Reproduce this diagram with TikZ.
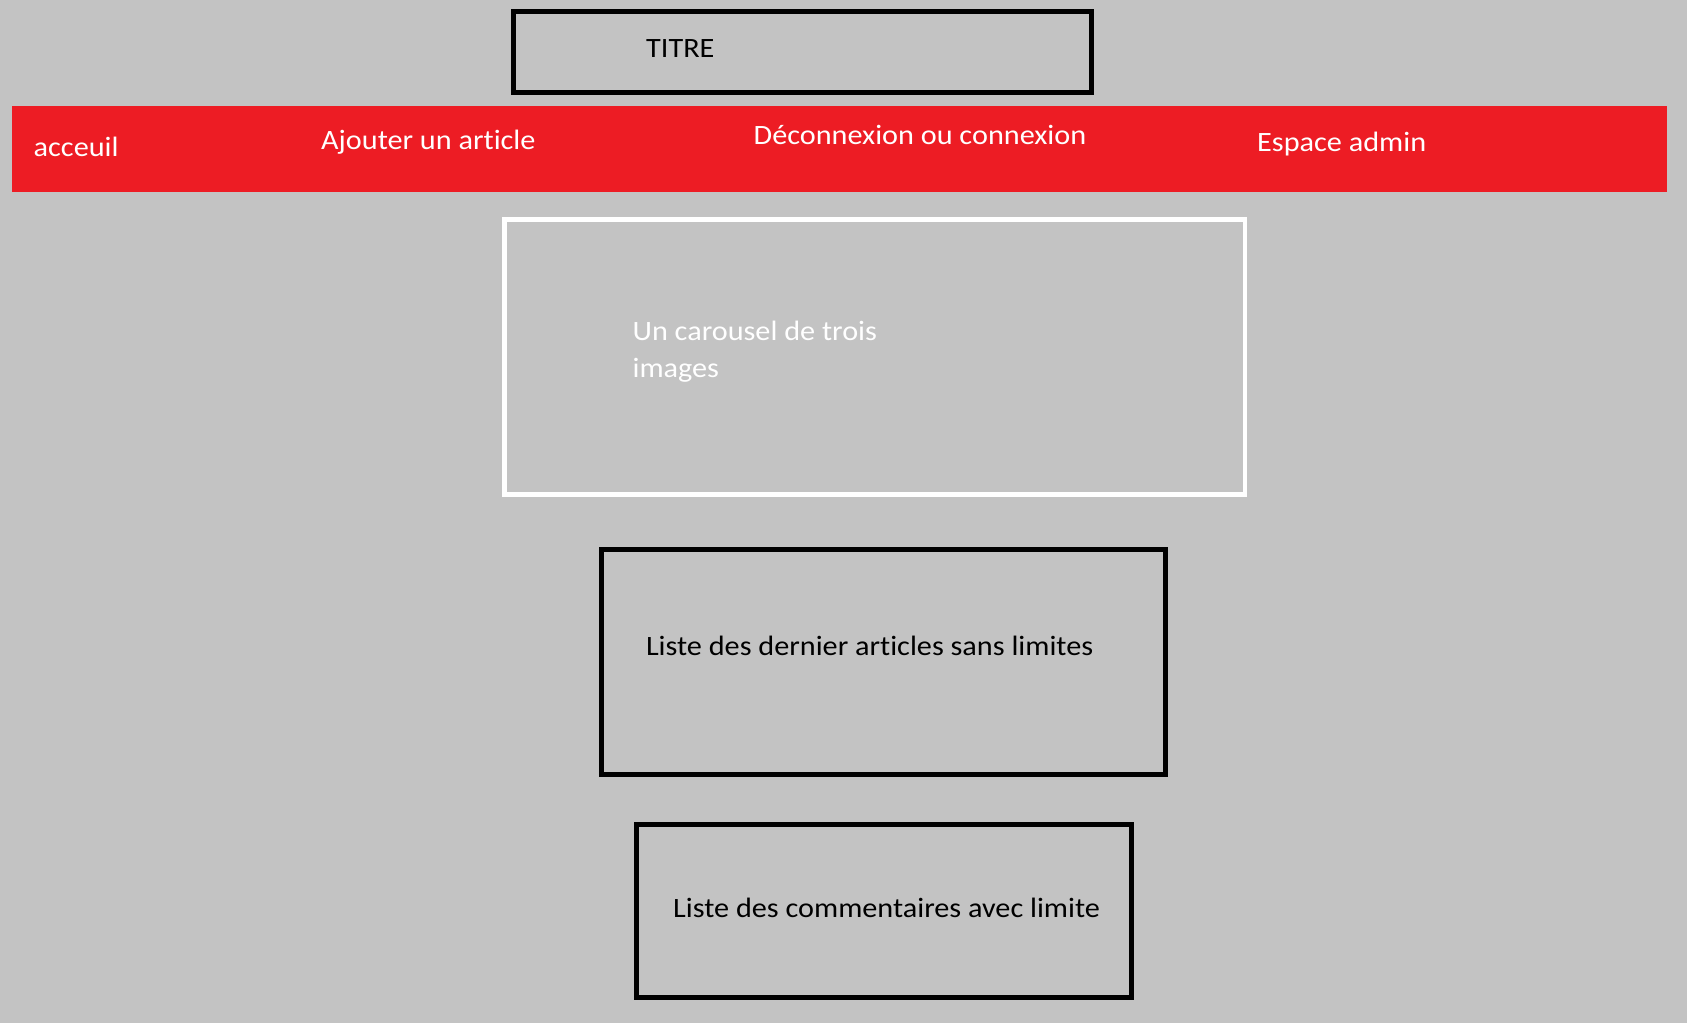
\documentclass[tikz,border=0pt]{standalone}
\usepackage{fontspec}
\setmainfont[FakeStretch=1.08,Ligatures=NoCommon]{Carlito}
\definecolor{pagegray}{HTML}{C3C3C3}
\definecolor{navred}{HTML}{ED1C24}
\begin{document}
\begin{tikzpicture}[x=1pt,y=-1pt,
  frame/.style={draw=black,line width=5pt,fill=none,inner sep=0pt,rectangle},
  whiteframe/.style={draw=white,line width=4.5pt,fill=none,inner sep=0pt,rectangle},
  label/.style={anchor=base west,inner sep=0pt,font=\fontsize{28}{36.6}\selectfont},
  navlabel/.style={label,text=white}]
  % page background
  \fill[pagegray] (0,0) rectangle (1687,1023);
  \useasboundingbox (0,0) rectangle (1687,1023);

  % title box
  \node[frame,minimum width=578.6pt,minimum height=80.7pt] (titlebox) at (802.4,52.15) {};
  \node[label] (titre) at (646,57.3) {TITRE};

  % navigation bar
  \node[fill=navred,inner sep=0pt,minimum width=1654.6pt,minimum height=85.3pt] (navbar) at (839.3,148.95) {};
  \node[navlabel] (acceuil) at (33.5,156) {acceuil};
  \node[navlabel] (ajouter) at (321,149.3) {Ajouter un article};
  \node[navlabel] (connexion) at (753.5,144.3) {Déconnexion ou connexion};
  \node[navlabel] (admin) at (1257,151.7) {Espace admin};

  % carousel (base anchor sits on the last line)
  \node[whiteframe,minimum width=740.5pt,minimum height=275.2pt] (carousel) at (874.5,356.85) {};
  \node[label,text=white,align=left] (carouseltext) at (632.4,377.3)
    {Un carousel de trois\\images};

  % latest articles
  \node[frame,minimum width=563.8pt,minimum height=224.8pt] (articles) at (883.6,662.3) {};
  \node[label] (articlestext) at (645.8,655.7) {Liste des dernier articles sans limites};

  % comments
  \node[frame,minimum width=494.7pt,minimum height=173.8pt] (comments) at (884.15,910.9) {};
  \node[label] (commentstext) at (673,917.3) {Liste des commentaires avec limite};
\end{tikzpicture}
\end{document}
